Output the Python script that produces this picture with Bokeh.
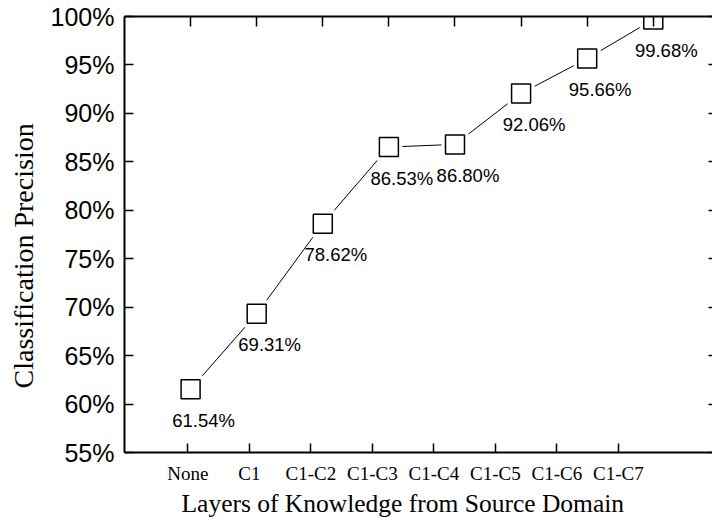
from bokeh.plotting import figure
from bokeh.models import Range1d, LinearAxis, FixedTicker, PrintfTickFormatter, Title, ColumnDataSource
from bokeh.core.properties import value
from bokeh.embed import file_html
from bokeh.resources import INLINE

# ---- data ----
categories = ["None", "C1", "C1-C2", "C1-C3", "C1-C4", "C1-C5", "C1-C6", "C1-C7"]
precision = [61.54, 69.31, 78.62, 86.53, 86.80, 92.06, 95.66, 99.68]
y_ticks = [55, 60, 65, 70, 75, 80, 85, 90, 95, 100]
x_title = "Layers of Knowledge from  Source Domain"
y_title = "Classification Precision"

idx = list(range(len(categories)))
point_labels = [f"{v:.2f}%" for v in precision]

src = ColumnDataSource(dict(x=idx, y=precision, lab=point_labels))

p = figure(width=712, height=518,
           x_range=Range1d(-1.0, 7.896), y_range=Range1d(55, 100),
           output_backend="svg", toolbar_location=None,
           x_axis_location=None, y_axis_location=None,
           min_border_left=124, min_border_right=0,
           min_border_top=16, min_border_bottom=66,
           background_fill_color="white", border_fill_color="white")
p.outline_line_color = None
p.grid.visible = False
p.extra_x_ranges = {"cats": Range1d(-1.03, 8.532)}

SANS = "Liberation Sans"
SERIF = "Liberation Serif"

# left axis
left = LinearAxis(ticker=FixedTicker(ticks=y_ticks), formatter=PrintfTickFormatter(format="%d%%"))
left.major_tick_in = 9
left.major_tick_out = 0
left.minor_tick_line_color = None
left.axis_line_width = 2
left.major_tick_line_width = 1.5
left.major_label_text_font = SANS
left.major_label_text_font_size = "25px"
left.major_label_text_color = "black"
left.major_label_standoff = 10
p.add_layout(left, "left")

# y title
p.add_layout(Title(text=y_title, align="left", offset=64, vertical_align="top",
                   text_font=SERIF, text_font_size="28px", text_font_style="normal",
                   text_color="black", standoff=14), "left")

# bottom axis (category labels)
bottom = LinearAxis(x_range_name="cats", ticker=FixedTicker(ticks=idx),
                    major_label_overrides={i: c for i, c in zip(idx, categories)})
bottom.major_tick_in = 9
bottom.major_tick_out = 0
bottom.minor_tick_line_color = None
bottom.axis_line_width = 2
bottom.major_tick_line_width = 1.5
bottom.major_label_text_font = SERIF
bottom.major_label_text_font_size = "19px"
bottom.major_label_text_color = "black"
bottom.major_label_standoff = 10
p.add_layout(bottom, "below")

p.add_layout(Title(text=x_title, align="left", offset=57, vertical_align="bottom",
                   text_font=SERIF, text_font_size="25.5px", text_font_style="normal",
                   text_color="black", standoff=0), "below")

# top axis (ticks only)
top = LinearAxis(ticker=FixedTicker(ticks=idx))
top.major_tick_in = 10
top.major_tick_out = 0
top.minor_tick_line_color = None
top.axis_line_width = 2
top.major_tick_line_width = 1.5
top.major_label_text_font_size = "1px"
top.major_label_text_color = None
top.major_label_standoff = 0
p.add_layout(top, "above")

# right axis (ticks only)
right = LinearAxis(ticker=FixedTicker(ticks=y_ticks))
right.axis_line_color = None
right.major_tick_in = 4
right.major_tick_out = 0
right.minor_tick_line_color = None
right.major_tick_line_width = 1.5
right.major_label_text_font_size = "1px"
right.major_label_text_color = None
right.major_label_standoff = -6
p.add_layout(right, "right")

# series
p.line("x", "y", source=src, line_color="black", line_width=1)
p.scatter("x", "y", source=src, marker="square", size=27, fill_color="white", line_color=None)
p.scatter("x", "y", source=src, marker="square", size=19, fill_color="white",
          line_color="black", line_width=1.5)
p.text("x", "y", text="lab", source=src, x_offset=13, y_offset=31,
       text_align="center", text_baseline="middle",
       text_font=value(SANS), text_font_size="18.5px", text_color="black")

open("out.html", "w").write(file_html(p, INLINE))
